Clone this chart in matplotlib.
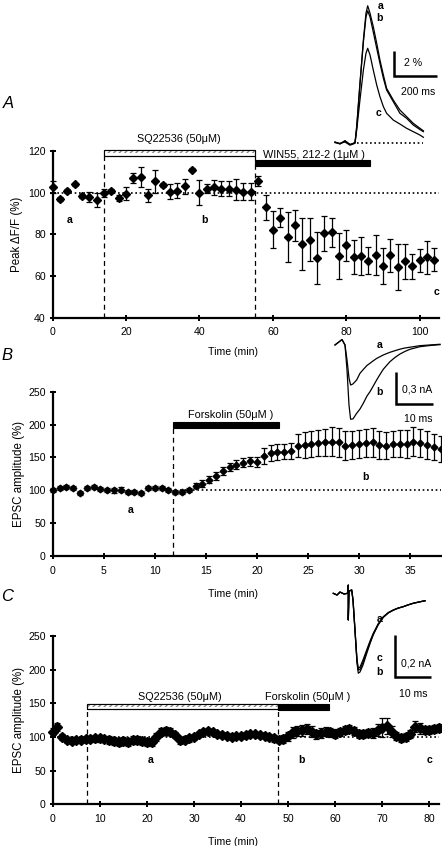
import numpy as np
import matplotlib
matplotlib.use("Agg")
import matplotlib.pyplot as plt
from matplotlib.patches import Rectangle

plt.rcParams['font.family'] = ['Liberation Sans', 'DejaVu Sans']

# ---------------- Panel A data ----------------
a_time = [0, 2, 4, 6, 8, 10, 12, 14, 16, 18, 20, 22, 24, 26, 28, 30, 32, 34, 36, 38,
          40, 42, 44, 46, 48, 50, 52, 54, 56, 58, 60, 62, 64, 66, 68, 70, 72, 74, 76, 78,
          80, 82, 84, 86, 88, 90, 92, 94, 96, 98, 100, 102, 104]
a_peak = [102.7, 97, 101, 104, 98.4, 98, 96.5, 100, 101, 97.5, 99.5, 107, 107.5, 98.7, 105.5,
          103.5, 100.5, 101, 103, 111, 100, 102, 102.5, 102, 102, 101.5, 100.5, 100.5, 105.5,
          93, 82.3, 88, 78.5, 84.3, 75.5, 77.5, 68.7, 80.5, 81, 69.8, 74.7, 69.2, 69.5, 67.4,
          70, 64.8, 70, 64.5, 67, 64.8, 67.5, 69, 67.8]
a_err = [3, 1, 1, 0.7, 1, 2.5, 3.5, 2, 1, 1.5, 3, 2.5, 5, 3, 5.5, 1, 3.5, 3.5, 3.5, 0.7,
         6, 2, 3.5, 3.5, 3.5, 5, 4, 4, 2.5, 6, 9, 4.5, 12, 7.5, 12.5, 10.5, 12.5, 8.5, 7,
         11, 7.5, 8, 9, 6.5, 9.5, 8.5, 8, 11, 8.5, 6, 5.5, 8, 5.5]
a_sq = (14, 55)
a_win = (55, 86.6)

# inset A traces (ms, % dF/F)
ia_time = [0, 23, 46.5, 70, 93, 101, 116, 132, 144, 152, 163, 178, 194, 209, 225, 240,
           271, 302, 333, 364, 395, 411]
ia_a = [0.1, -0.05, 0.2, -0.1, 0.05, 1.33, 4.8, 8.26, 10.4, 11.0, 10.4, 9.33, 8.0, 6.66,
        5.46, 4.4, 3.46, 2.66, 2.13, 1.6, 1.2, 1.0]
ia_b = [0.1, -0.05, 0.2, -0.1, 0.05, 1.3, 4.7, 8.1, 10.1, 10.6, 10.1, 8.9, 7.6, 6.4,
        5.2, 4.26, 3.33, 2.4, 2.0, 1.46, 1.1, 0.93]
ia_c = [0.05, 0.0, 0.1, -0.15, 0.0, 1.06, 3.46, 5.86, 7.2, 7.6, 7.06, 5.86, 4.66, 3.73,
        2.93, 2.4, 1.86, 1.54, 1.2, 0.93, 0.66, 0.48]

# ---------------- Panel B data ----------------
b_time = np.arange(58) * (2.0 / 3.0)
b_epsc = [100, 103, 105, 103, 96, 104, 105, 102, 100, 100, 101, 97, 97, 96, 103, 104, 104,
          100, 97, 97, 101, 107, 110, 116, 122, 130, 135, 139, 142, 144, 143, 152, 157, 158,
          159, 160, 168, 169, 170, 172, 173, 174, 173, 168, 169, 170, 172, 173, 169, 168,
          170, 171, 170, 174, 172, 169, 166, 163]
b_err = [3, 3, 3, 3, 3, 3, 3, 3, 3, 4, 4, 3, 3, 3, 3, 3, 3, 3, 3, 3, 3, 4, 5, 5, 6, 6, 6,
         7, 7, 7, 8, 12, 12, 12, 12, 12, 18, 20, 20, 20, 21, 22, 22, 22, 21, 21, 22, 22, 21,
         20, 20, 21, 21, 22, 21, 21, 20, 20]
b_fsk = (11.8, 22.2)

# inset B traces (ms, nA)
ib_time = [0, 1.88, 2.68, 3.22, 3.75, 4.18, 4.82, 5.81, 6.70, 7.58, 8.58, 9.38, 10.18,
           11.17, 12.06, 12.94, 13.94, 14.74, 16.08, 17.42, 18.76, 20.1, 22.78, 25.46, 28.14]
ib_a = [0, 0.05, 0, -0.139, -0.307, -0.372, -0.362, -0.325, -0.263, -0.228, -0.190, -0.170,
        -0.149, -0.125, -0.109, -0.093, -0.079, -0.068, -0.053, -0.039, -0.028, -0.021,
        -0.0065, 0, 0.0065]
ib_b = [0, 0.05, 0, -0.232, -0.557, -0.690, -0.687, -0.635, -0.595, -0.542, -0.474, -0.434,
        -0.386, -0.325, -0.274, -0.226, -0.186, -0.155, -0.116, -0.084, -0.060, -0.040,
        -0.016, -0.005, 0.003]

# ---------------- Panel C data ----------------
c_time = np.arange(83)
c_epsc = [108, 115, 100, 95, 94, 95, 95, 97, 97, 98, 98, 97, 96, 94, 93, 94, 92, 95, 96, 94,
          93, 92, 100, 107, 109, 108, 103, 95, 96, 98, 100, 104, 108, 109, 107, 104, 103,
          102, 100, 101, 101, 103, 104, 104, 103, 102, 100, 98, 96, 97, 101, 107, 109, 110,
          112, 108, 104, 106, 108, 107, 105, 108, 110, 112, 109, 104, 104, 106, 106, 110,
          114, 116, 108, 102, 98, 100, 104, 115, 113, 110, 111, 112, 113]
c_err = [5, 6, 4, 4, 4, 4, 4, 5, 5, 5, 5, 5, 6, 6, 6, 6, 6, 6, 6, 6, 6, 6, 6, 6, 6, 5, 5,
         5, 5, 5, 4, 4, 4, 4, 4, 4, 4, 4, 4, 4, 4, 4, 4, 4, 4, 4, 5, 5, 5, 6, 7, 8, 8, 8,
         8, 8, 7, 7, 7, 7, 7, 6, 6, 6, 6, 6, 6, 6, 7, 9, 14, 12, 8, 6, 6, 6, 6, 8, 8, 6,
         6, 6, 6]
c_sq = (7.2, 47.9)
c_fsk = (47.9, 58.7)

# inset C traces (ms, nA)
ic_time = [0, 1.04, 1.88, 3.0, 3.98, 4.2, 4.2, 4.4, 5.15, 5.52, 6.08, 6.64, 7.0, 7.48, 8.32,
           9.35, 10.28, 11.2, 12.54, 14.0, 15.4, 16.8, 18.1, 19.6, 20.9, 22.4, 24.0, 25.7]
ic_a = [0, -0.008, 0.006, -0.003, 0, 0.039, -0.126, 0.01, 0.016, -0.032, -0.173, -0.315,
        -0.355, -0.349, -0.315, -0.268, -0.226, -0.189, -0.145, -0.111, -0.091, -0.079,
        -0.070, -0.063, -0.055, -0.047, -0.041, -0.035]
ic_b = [0, -0.008, 0.006, -0.003, 0, 0.039, -0.126, 0.01, 0.016, -0.032, -0.18, -0.33,
        -0.378, -0.372, -0.339, -0.285, -0.238, -0.196, -0.150, -0.114, -0.093, -0.080,
        -0.071, -0.063, -0.055, -0.047, -0.041, -0.035]
ic_c = [0, -0.008, 0.006, -0.003, 0, 0.039, -0.126, 0.01, 0.016, -0.032, -0.176, -0.32,
        -0.363, -0.36, -0.327, -0.276, -0.232, -0.193, -0.148, -0.112, -0.092, -0.079,
        -0.070, -0.063, -0.055, -0.047, -0.041, -0.035]

W, H = 442, 846
fig = plt.figure(figsize=(W / 100, H / 100), dpi=100)


def px_axes(left, top, right, bottom, **kw):
    return fig.add_axes([left / W, 1 - bottom / H, (right - left) / W, (bottom - top) / H], **kw)


TICK_FS = 7.6
LAB_FS = 7.6
YLAB_FS = 8.3
LET_FS = 7.6
DOT = (0, (1, 1.6))


def style_axes(ax):
    for s in ['top', 'right']:
        ax.spines[s].set_visible(False)
    for s in ['left', 'bottom']:
        ax.spines[s].set_linewidth(1.6)
    ax.tick_params(axis='both', direction='inout', length=4, width=1.4, labelsize=TICK_FS)
    ax.tick_params(axis='x', pad=5)
    ax.tick_params(axis='y', pad=3)
    ax.patch.set_alpha(0)


def drug_bar(ax, x0, x1, y0, y1, kind):
    if kind == 'black':
        ax.add_patch(Rectangle((x0, y0), x1 - x0, y1 - y0, facecolor='black',
                               edgecolor='black', lw=0.8, clip_on=False, zorder=4))
    else:
        ax.add_patch(Rectangle((x0, y0), x1 - x0, y1 - y0, facecolor='white',
                               edgecolor='black', lw=0.8, clip_on=False, zorder=4))
        ym = y0 + (y1 - y0) * 0.45
        ax.add_patch(Rectangle((x0, ym), x1 - x0, y1 - ym, facecolor='white',
                               edgecolor='#888888', hatch='//////', lw=0, clip_on=False,
                               zorder=4))
        ax.add_patch(Rectangle((x0, y0), x1 - x0, y1 - y0, facecolor='none',
                               edgecolor='black', lw=0.8, clip_on=False, zorder=5))


ebkw = dict(fmt='D', color='black', markersize=3.6, elinewidth=0.9, capsize=2.5,
            capthick=0.9, zorder=3, clip_on=False)

# ======================= Panel A =======================
axA = px_axes(52.7, 151, 438.7, 317.7)
style_axes(axA)
axA.set_xlim(0, 105.2)
axA.set_ylim(40, 120)
axA.set_xticks([0, 20, 40, 60, 80, 100])
axA.set_yticks([40, 60, 80, 100, 120])
axA.errorbar(a_time, a_peak, yerr=a_err, **ebkw)
axA.plot([0, 105.2], [100, 100], color='black', lw=1.2, linestyle=DOT, zorder=2)
for xv in a_sq:
    axA.plot([xv, xv], [40, 117.4], color='black', lw=0.9, linestyle=(0, (4, 3)),
             zorder=2, clip_on=False)
drug_bar(axA, a_sq[0], a_sq[1], 117.4, 120.6, 'hatch')
drug_bar(axA, a_win[0], a_win[1], 113.0, 115.8, 'black')
axA.text((a_sq[0] + a_sq[1]) / 2, 125.8, 'SQ22536 (50\u03bcM)', ha='center', va='center',
         fontsize=7.8)
axA.text(71.2, 117.9, 'WIN55, 212-2 (1\u03bcM )', ha='center', va='center', fontsize=7.8)
axA.text(4.6, 86.7, 'a', fontsize=LET_FS, fontweight='bold', ha='center', va='center')
axA.text(41.4, 86.7, 'b', fontsize=LET_FS, fontweight='bold', ha='center', va='center')
axA.text(104.5, 52.2, 'c', fontsize=LET_FS, fontweight='bold', ha='center', va='center')
axA.set_xlabel('Time (min)', fontsize=LAB_FS)
axA.xaxis.set_label_coords((233 - 52.7) / 386, -(352 - 317.7) / 166.7)
axA.xaxis.label.set_va('center')
axA.set_ylabel('Peak \u0394F/F (%)', fontsize=YLAB_FS)
axA.yaxis.set_label_coords((17 - 52.7) / 386, 0.5)
axA.yaxis.label.set_va('center')

# inset A
iA = px_axes(330, 0, 442, 150)
iA.axis('off')
iA.set_xlim(-23.25, 497.55)
iA.set_ylim(-0.536, 11.464)
iA.plot(ia_time, ia_c, color='black', lw=0.9)
iA.plot(ia_time, ia_b, color='black', lw=0.9)
iA.plot(ia_time, ia_a, color='black', lw=0.9)
iA.plot([102, 409], [0, 0], color='black', lw=1.2, linestyle=DOT)
iA.plot([274, 274, 474], [7.38, 5.38, 5.38], color='black', lw=1.8,
        solid_joinstyle='miter', solid_capstyle='butt')
iA.text(363, 6.4, '2 %', fontsize=7.6, ha='center', va='center')
iA.text(386, 4.1, '200 ms', fontsize=7.6, ha='center', va='center')
iA.text(212, 11.4, 'a', fontsize=LET_FS, fontweight='bold', ha='center', va='top')
iA.text(208, 10.0, 'b', fontsize=LET_FS, fontweight='bold', ha='center', va='center')
iA.text(201, 2.4, 'c', fontsize=LET_FS, fontweight='bold', ha='center', va='center')

# ======================= Panel B =======================
axB = px_axes(52.7, 391.7, 440.7, 556)
style_axes(axB)
axB.set_xlim(0, 38)
axB.set_ylim(0, 250)
axB.set_xticks([0, 5, 10, 15, 20, 25, 30, 35])
axB.set_yticks([0, 50, 100, 150, 200, 250])
axB.errorbar(b_time, b_epsc, yerr=b_err, **dict(ebkw, markersize=3.4))
axB.plot([12.5, 38], [100, 100], color='black', lw=1.2, linestyle=DOT, zorder=2)
axB.plot([b_fsk[0], b_fsk[0]], [0, 195.5], color='black', lw=0.9, linestyle=(0, (4, 3)),
         zorder=2)
drug_bar(axB, b_fsk[0], b_fsk[1], 195.5, 204.5, 'black')
axB.text(17.4, 214, 'Forskolin (50\u03bcM )', ha='center', va='center', fontsize=7.8)
axB.text(7.6, 70, 'a', fontsize=LET_FS, fontweight='bold', ha='center', va='center')
axB.text(30.6, 120.5, 'b', fontsize=LET_FS, fontweight='bold', ha='center', va='center')
axB.set_xlabel('Time (min)', fontsize=LAB_FS)
axB.xaxis.set_label_coords((233 - 52.7) / 388, -(594 - 556) / 164.3)
axB.xaxis.label.set_va('center')
axB.set_ylabel('EPSC amplitude (%)', fontsize=YLAB_FS)
axB.yaxis.set_label_coords((19 - 52.7) / 388, 0.5)
axB.yaxis.label.set_va('center')

# inset B
iB = px_axes(330, 330, 442, 430)
iB.axis('off')
iB.set_xlim(-1.34, 28.68)
iB.set_ylim(-0.790, 0.139)
iB.plot(ib_time, ib_b, color='black', lw=0.9)
iB.plot(ib_time, ib_a, color='black', lw=0.9)
iB.plot([16.35, 16.35, 26.35], [-0.248, -0.548, -0.548], color='black', lw=1.8,
        solid_joinstyle='miter', solid_capstyle='butt')
iB.text(22.0, -0.418, '0,3 nA', fontsize=7.6, ha='center', va='center')
iB.text(22.3, -0.690, '10 ms', fontsize=7.6, ha='center', va='center')
iB.text(12.06, 0.0, 'a', fontsize=LET_FS, fontweight='bold', ha='center', va='center')
iB.text(11.87, -0.434, 'b', fontsize=LET_FS, fontweight='bold', ha='center', va='center')

# ======================= Panel C =======================
axC = px_axes(52.7, 636, 438.7, 804.3)
style_axes(axC)
axC.set_xlim(0, 82)
axC.set_ylim(0, 250)
axC.set_xticks([0, 10, 20, 30, 40, 50, 60, 70, 80])
axC.set_yticks([0, 50, 100, 150, 200, 250])
axC.errorbar(c_time, c_epsc, yerr=c_err, **dict(ebkw, markersize=4.6, capsize=2.2))
axC.plot([0, 82], [100, 100], color='black', lw=1.2, linestyle=DOT, zorder=2)
for xv in c_sq:
    axC.plot([xv, xv], [0, 141.5], color='black', lw=0.9, linestyle=(0, (4, 3)), zorder=2)
drug_bar(axC, c_sq[0], c_sq[1], 141.5, 149.0, 'hatch')
drug_bar(axC, c_fsk[0], c_fsk[1], 139.5, 149.0, 'black')
axC.text(27, 159, 'SQ22536 (50\u03bcM)', ha='center', va='center', fontsize=7.8)
axC.text(54.2, 159, 'Forskolin (50\u03bcM )', ha='center', va='center', fontsize=7.8)
axC.text(20.8, 66, 'a', fontsize=LET_FS, fontweight='bold', ha='center', va='center')
axC.text(52.9, 66, 'b', fontsize=LET_FS, fontweight='bold', ha='center', va='center')
axC.text(80.1, 66, 'c', fontsize=LET_FS, fontweight='bold', ha='center', va='center')
axC.set_xlabel('Time (min)', fontsize=LAB_FS)
axC.xaxis.set_label_coords((233 - 52.7) / 386, -(841.7 - 804.3) / 168.3)
axC.xaxis.label.set_va('center')
axC.set_ylabel('EPSC amplitude (%)', fontsize=YLAB_FS)
axC.yaxis.set_label_coords((19 - 52.7) / 386, 0.5)
axC.yaxis.label.set_va('center')

# inset C
iC = px_axes(330, 575, 442, 700)
iC.axis('off')
iC.set_xlim(-0.924, 30.44)
iC.set_ylim(-0.5047, 0.0867)
iC.plot(ic_time, ic_b, color='black', lw=0.9)
iC.plot(ic_time, ic_c, color='black', lw=0.9)
iC.plot(ic_time, ic_a, color='black', lw=0.9)
iC.plot([17.28, 17.28, 27.28], [-0.197, -0.397, -0.397], color='black', lw=1.8,
        solid_joinstyle='miter', solid_capstyle='butt')
iC.text(23.1, -0.334, '0,2 nA', fontsize=7.6, ha='center', va='center')
iC.text(22.4, -0.478, '10 ms', fontsize=7.6, ha='center', va='center')
iC.text(13.1, -0.123, 'a', fontsize=LET_FS, fontweight='bold', ha='center', va='center')
iC.text(12.9, -0.307, 'c', fontsize=LET_FS, fontweight='bold', ha='center', va='center')
iC.text(12.9, -0.374, 'b', fontsize=LET_FS, fontweight='bold', ha='center', va='center')

# panel letters
fig.text(8 / W, 1 - 103 / H, 'A', fontsize=12, style='italic', ha='center', va='center')
fig.text(7 / W, 1 - 356 / H, 'B', fontsize=12, style='italic', ha='center', va='center')
fig.text(7 / W, 1 - 596 / H, 'C', fontsize=12, style='italic', ha='center', va='center')

fig.savefig('out.png', dpi=100, facecolor='white')
